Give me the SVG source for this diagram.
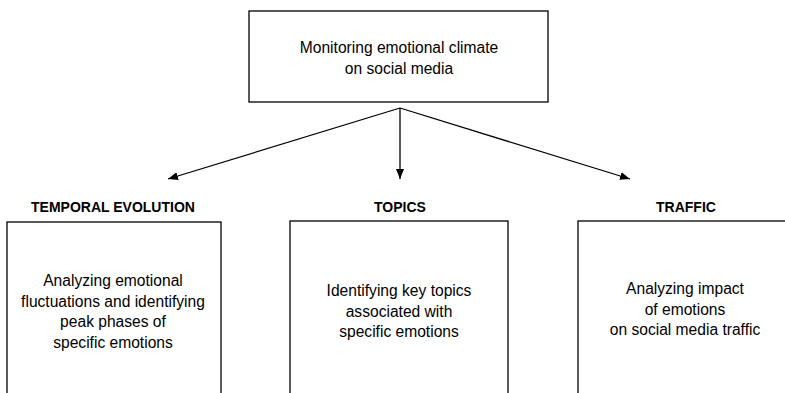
<svg xmlns="http://www.w3.org/2000/svg" width="785" height="393" viewBox="0 0 785 393">
  <style>
    .box { fill: #ffffff; stroke: #000000; stroke-width: 1.3; }
    .txt { font-family: "Liberation Sans", Arial, sans-serif; font-size: 15.6px; fill: #000000; text-anchor: middle; }
    .hdr { font-family: "Liberation Sans", Arial, sans-serif; font-size: 14px; font-weight: bold; fill: #000000; text-anchor: middle; }
    .conn { stroke: #000000; stroke-width: 1.3; fill: none; marker-end: url(#arrow); }
  </style>
  <defs>
    <marker id="arrow" viewBox="0 0 10 8" refX="10" refY="4" markerWidth="10" markerHeight="8" markerUnits="userSpaceOnUse" orient="auto">
      <path d="M0,0 L10,4 L0,8 z" fill="#000000"/>
    </marker>
  </defs>
  <rect width="785" height="393" fill="#ffffff"/>

  <g id="root">
    <rect class="box" x="249" y="11" width="299" height="91"/>
    <text class="txt" x="399" y="53">Monitoring emotional climate</text>
    <text class="txt" x="399" y="74">on social media</text>
  </g>

  <g id="connectors">
    <path class="conn" d="M400,108 L168,179"/>
    <path class="conn" d="M400,108 L400,179"/>
    <path class="conn" d="M400,108 L630,179"/>
  </g>

  <g id="temporal">
    <text class="hdr" x="113" y="212">TEMPORAL EVOLUTION</text>
    <rect class="box" x="7" y="222" width="214" height="190"/>
    <text class="txt" x="113" y="286">Analyzing emotional</text>
    <text class="txt" x="113" y="306.5">fluctuations and identifying</text>
    <text class="txt" x="113" y="327">peak phases of</text>
    <text class="txt" x="113" y="347.5">specific emotions</text>
  </g>

  <g id="topics">
    <text class="hdr" x="400" y="212">TOPICS</text>
    <rect class="box" x="290" y="221" width="218" height="190"/>
    <text class="txt" x="399" y="296">Identifying key topics</text>
    <text class="txt" x="399" y="316.5">associated with</text>
    <text class="txt" x="399" y="337">specific emotions</text>
  </g>

  <g id="traffic">
    <text class="hdr" x="686" y="212">TRAFFIC</text>
    <rect class="box" x="578" y="221" width="230" height="190"/>
    <text class="txt" x="685" y="294">Analyzing impact</text>
    <text class="txt" x="685" y="314.5">of emotions</text>
    <text class="txt" x="685" y="335">on social media traffic</text>
  </g>
</svg>
